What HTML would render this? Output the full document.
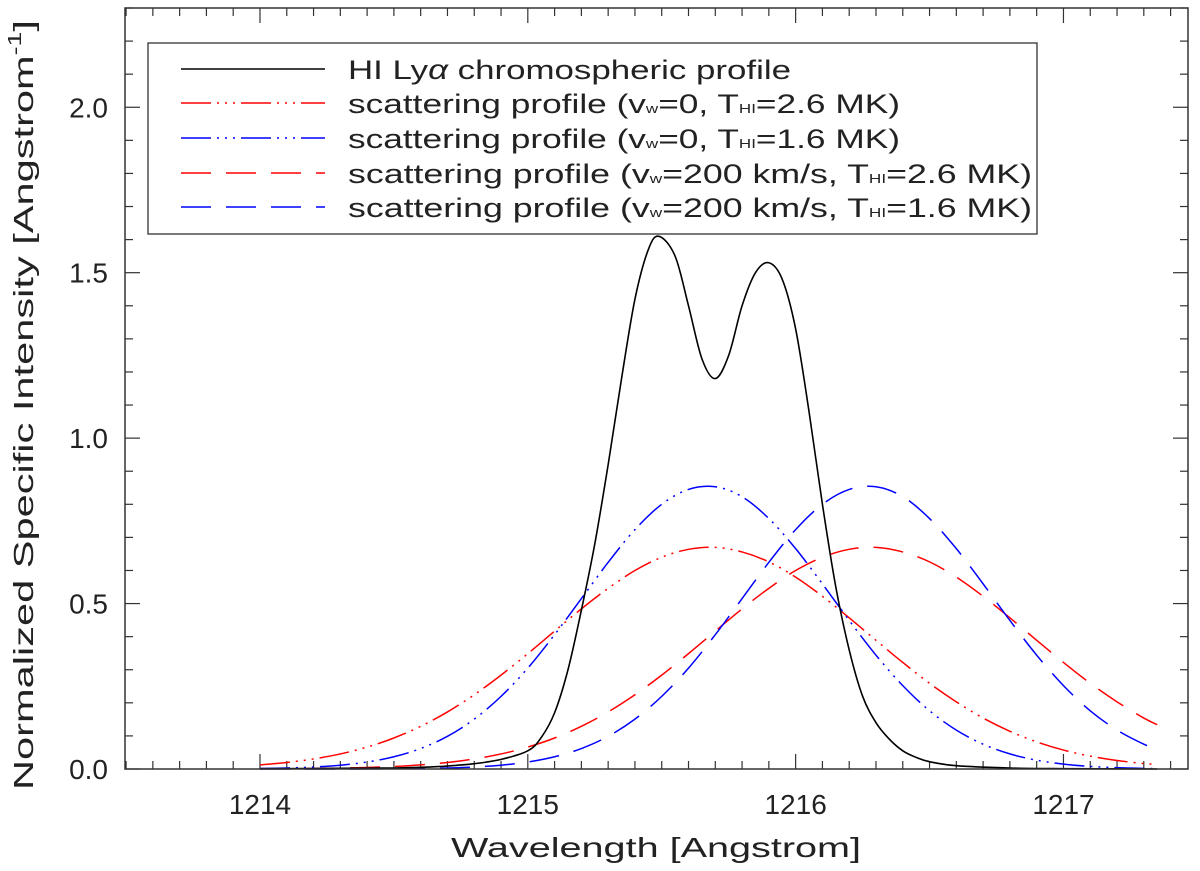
<!DOCTYPE html>
<html><head><meta charset="utf-8"><style>
html,body{margin:0;padding:0;background:#fff}
svg{display:block;font-family:"Liberation Sans","DejaVu Sans",sans-serif}
</style></head><body>
<svg id="chart" width="1200" height="871" viewBox="0 0 1200 871" xmlns="http://www.w3.org/2000/svg">
<g id="ticks"></g>
<g id="series"></g>
<rect x="125" y="8" width="1063" height="761" fill="none" stroke="#333" stroke-width="1.5"/>
<text transform="translate(33,405) rotate(-90)" text-anchor="middle" font-size="28" fill="#222" textLength="770" lengthAdjust="spacingAndGlyphs">Normalized Specific Intensity [Angstrom<tspan font-size="18" dy="-12">-1</tspan><tspan dy="12">]</tspan></text>
<text x="656" y="857" text-anchor="middle" font-size="28" fill="#222" textLength="410" lengthAdjust="spacingAndGlyphs">Wavelength [Angstrom]</text>
<g>
<rect x="148" y="43" width="889" height="191" fill="#fff" stroke="#333" stroke-width="1.3"/>
<line x1="181" y1="69" x2="325" y2="69" stroke="#000" stroke-width="1.4"/>
<line x1="181" y1="103" x2="325" y2="103" stroke="#f00" stroke-width="1.4" stroke-dasharray="30 6 2 6 2 6 2 6"/>
<line x1="181" y1="138" x2="325" y2="138" stroke="#00f" stroke-width="1.4" stroke-dasharray="30 6 2 6 2 6 2 6"/>
<line x1="181" y1="173" x2="325" y2="173" stroke="#f00" stroke-width="1.4" stroke-dasharray="30 15"/>
<line x1="181" y1="207" x2="325" y2="207" stroke="#00f" stroke-width="1.4" stroke-dasharray="30 15"/>
<g font-size="27" fill="#222">
<text x="348" y="79" textLength="443" lengthAdjust="spacingAndGlyphs">HI Ly<tspan font-style="italic">α</tspan> chromospheric profile</text>
<text x="348" y="113" textLength="552" lengthAdjust="spacingAndGlyphs">scattering profile (v<tspan font-size="13">w</tspan>=0, T<tspan font-size="13">HI</tspan>=2.6 MK)</text>
<text x="348" y="148" textLength="552" lengthAdjust="spacingAndGlyphs">scattering profile (v<tspan font-size="13">w</tspan>=0, T<tspan font-size="13">HI</tspan>=1.6 MK)</text>
<text x="348" y="183" textLength="684" lengthAdjust="spacingAndGlyphs">scattering profile (v<tspan font-size="13">w</tspan>=200 km/s, T<tspan font-size="13">HI</tspan>=2.6 MK)</text>
<text x="348" y="217" textLength="684" lengthAdjust="spacingAndGlyphs">scattering profile (v<tspan font-size="13">w</tspan>=200 km/s, T<tspan font-size="13">HI</tspan>=1.6 MK)</text>
</g>
</g>
</svg>
<script>
const xTicks = [1214, 1215, 1216, 1217];
const xTickLabels = ["1214", "1215", "1216", "1217"];
const yTicks = [0, 0.5, 1.0, 1.5, 2.0];
const yTickLabels = ["0.0", "0.5", "1.0", "1.5", "2.0"];
const scatterWave = [1214.0,1214.1,1214.2,1214.3,1214.4,1214.5,1214.6,1214.7,1214.8,1214.9,1215.0,1215.1,1215.2,1215.3,1215.4,1215.5,1215.6,1215.7,1215.8,1215.9,1216.0,1216.1,1216.2,1216.3,1216.4,1216.5,1216.6,1216.7,1216.8,1216.9,1217.0,1217.1,1217.2,1217.3,1217.35];
const redStatic = [0.0125,0.0197,0.0304,0.0455,0.0663,0.0937,0.129,0.1725,0.2244,0.2838,0.3487,0.4167,0.484,0.546,0.600,0.640,0.664,0.670,0.656,0.626,0.580,0.522,0.457,0.389,0.322,0.259,0.203,0.154,0.114,0.0819,0.0572,0.0389,0.0257,0.0165,0.0135];
const blueStatic = [0.0014,0.0030,0.0060,0.0115,0.0211,0.0370,0.0619,0.0988,0.1507,0.2195,0.305,0.406,0.515,0.6246,0.7235,0.800,0.845,0.853,0.823,0.757,0.666,0.5595,0.449,0.344,0.252,0.176,0.1176,0.075,0.0457,0.0266,0.0148,0.0079,0.0040,0.0019,0.0014];
const redWind = [0.0004,0.0008,0.0015,0.0026,0.0046,0.0076,0.0125,0.0197,0.0304,0.0455,0.0663,0.0937,0.129,0.1725,0.2244,0.2838,0.3487,0.4167,0.484,0.546,0.600,0.640,0.664,0.670,0.656,0.626,0.580,0.522,0.457,0.389,0.322,0.259,0.203,0.154,0.134];
const blueWind = [0.0000,0.0000,0.0000,0.0001,0.0003,0.0007,0.0014,0.0030,0.0060,0.0115,0.0211,0.0370,0.0619,0.0988,0.1507,0.2195,0.305,0.406,0.515,0.6246,0.7235,0.800,0.845,0.853,0.823,0.757,0.666,0.5595,0.449,0.344,0.252,0.176,0.1176,0.075,0.060];
const chromoWave = [1214.0,1214.3,1214.5,1214.6,1214.7,1214.8,1214.9,1215.0,1215.05,1215.1,1215.15,1215.2,1215.25,1215.3,1215.35,1215.4,1215.45,1215.49,1215.55,1215.6,1215.65,1215.7,1215.75,1215.8,1215.85,1215.9,1215.95,1216.0,1216.05,1216.1,1216.15,1216.2,1216.25,1216.3,1216.35,1216.4,1216.45,1216.5,1216.6,1216.8,1217.0,1217.35];
const chromoValue = [0.001,0.002,0.003,0.005,0.009,0.016,0.029,0.055,0.095,0.17,0.30,0.48,0.68,0.92,1.18,1.42,1.57,1.61,1.55,1.40,1.24,1.18,1.25,1.40,1.50,1.53,1.48,1.33,1.08,0.80,0.55,0.36,0.22,0.14,0.09,0.055,0.035,0.022,0.01,0.003,0.001,0.0];

const X0=1213.496, X1=1217.465, PL=125, PR=1188, PT=8, PB=769, Y1=2.3;
function xs(v){return PL+(v-X0)/(X1-X0)*(PR-PL);}
function ys(v){return PB-v/Y1*(PB-PT);}
const NS="http://www.w3.org/2000/svg";
const tg=document.getElementById('ticks'), sg=document.getElementById('series'), svg=document.getElementById('chart');
function mk(tag,attrs,parent){const e=document.createElementNS(NS,tag);for(const k in attrs)e.setAttribute(k,attrs[k]);parent.appendChild(e);return e;}

for(let i=0;i<=40;i++){
  const v=1213.5+i*0.1; if(v<X0-1e-6||v>X1) continue;
  const major=Math.abs(v-Math.round(v))<1e-6;
  const L=major?15:8, x=xs(v);
  const t1=mk('line',{x1:x,x2:x,y1:PB,y2:PB-L,stroke:'#333','stroke-width':1.2},tg);
  
  
  const t2=mk('line',{x1:x,x2:x,y1:PT,y2:PT+L,stroke:'#333','stroke-width':1.2},tg);
  
  
}
xTicks.forEach((v,i)=>{
  const t=mk('text',{x:xs(v),y:814,'text-anchor':'middle','font-size':28,fill:'#222'},svg);
  t.textContent=xTickLabels[i];
  
  
});
for(let i=0;i<=23;i++){
  const v=i*0.1; const major=(i%5===0); const L=major?15:8, y=ys(v);
  const t1=mk('line',{x1:PL,x2:PL+L,y1:y,y2:y,stroke:'#333','stroke-width':1.2},tg);
  
  
  const t2=mk('line',{x1:PR,x2:PR-L,y1:y,y2:y,stroke:'#333','stroke-width':1.2},tg);
  
  
}
yTicks.forEach((v,i)=>{
  const t=mk('text',{x:108,y:ys(v)+10,'text-anchor':'end','font-size':28,fill:'#222'},svg);
  t.textContent=yTickLabels[i];
  
  
});

function smoothPath(xv,yv){
  const p=xv.map((x,i)=>[xs(x),ys(yv[i])]);
  let d='M'+p[0][0].toFixed(2)+','+p[0][1].toFixed(2);
  for(let i=0;i<p.length-1;i++){
    const p0=p[Math.max(i-1,0)],p1=p[i],p2=p[i+1],p3=p[Math.min(i+2,p.length-1)];
    const c1=[p1[0]+(p2[0]-p0[0])/6,p1[1]+(p2[1]-p0[1])/6];
    const c2=[p2[0]-(p3[0]-p1[0])/6,p2[1]-(p3[1]-p1[1])/6];
    d+=' C'+c1.map(n=>n.toFixed(2)).join(',')+' '+c2.map(n=>n.toFixed(2)).join(',')+' '+p2.map(n=>n.toFixed(2)).join(',');
  }
  return d;
}
const dd="30 6 2 6 2 6 2 6";
const s1=mk('path',{d:smoothPath(scatterWave,redStatic),fill:'none',stroke:'#f00','stroke-width':1.5,'stroke-dasharray':dd},sg);


const s2=mk('path',{d:smoothPath(scatterWave,blueStatic),fill:'none',stroke:'#00f','stroke-width':1.5,'stroke-dasharray':dd},sg);


const s3=mk('path',{d:smoothPath(scatterWave,redWind),fill:'none',stroke:'#f00','stroke-width':1.5,'stroke-dasharray':'30 15'},sg);


const s4=mk('path',{d:smoothPath(scatterWave,blueWind),fill:'none',stroke:'#00f','stroke-width':1.5,'stroke-dasharray':'30 15'},sg);


const s5=mk('path',{d:smoothPath(chromoWave,chromoValue),fill:'none',stroke:'#000','stroke-width':1.6},sg);


</script>
</body></html>
